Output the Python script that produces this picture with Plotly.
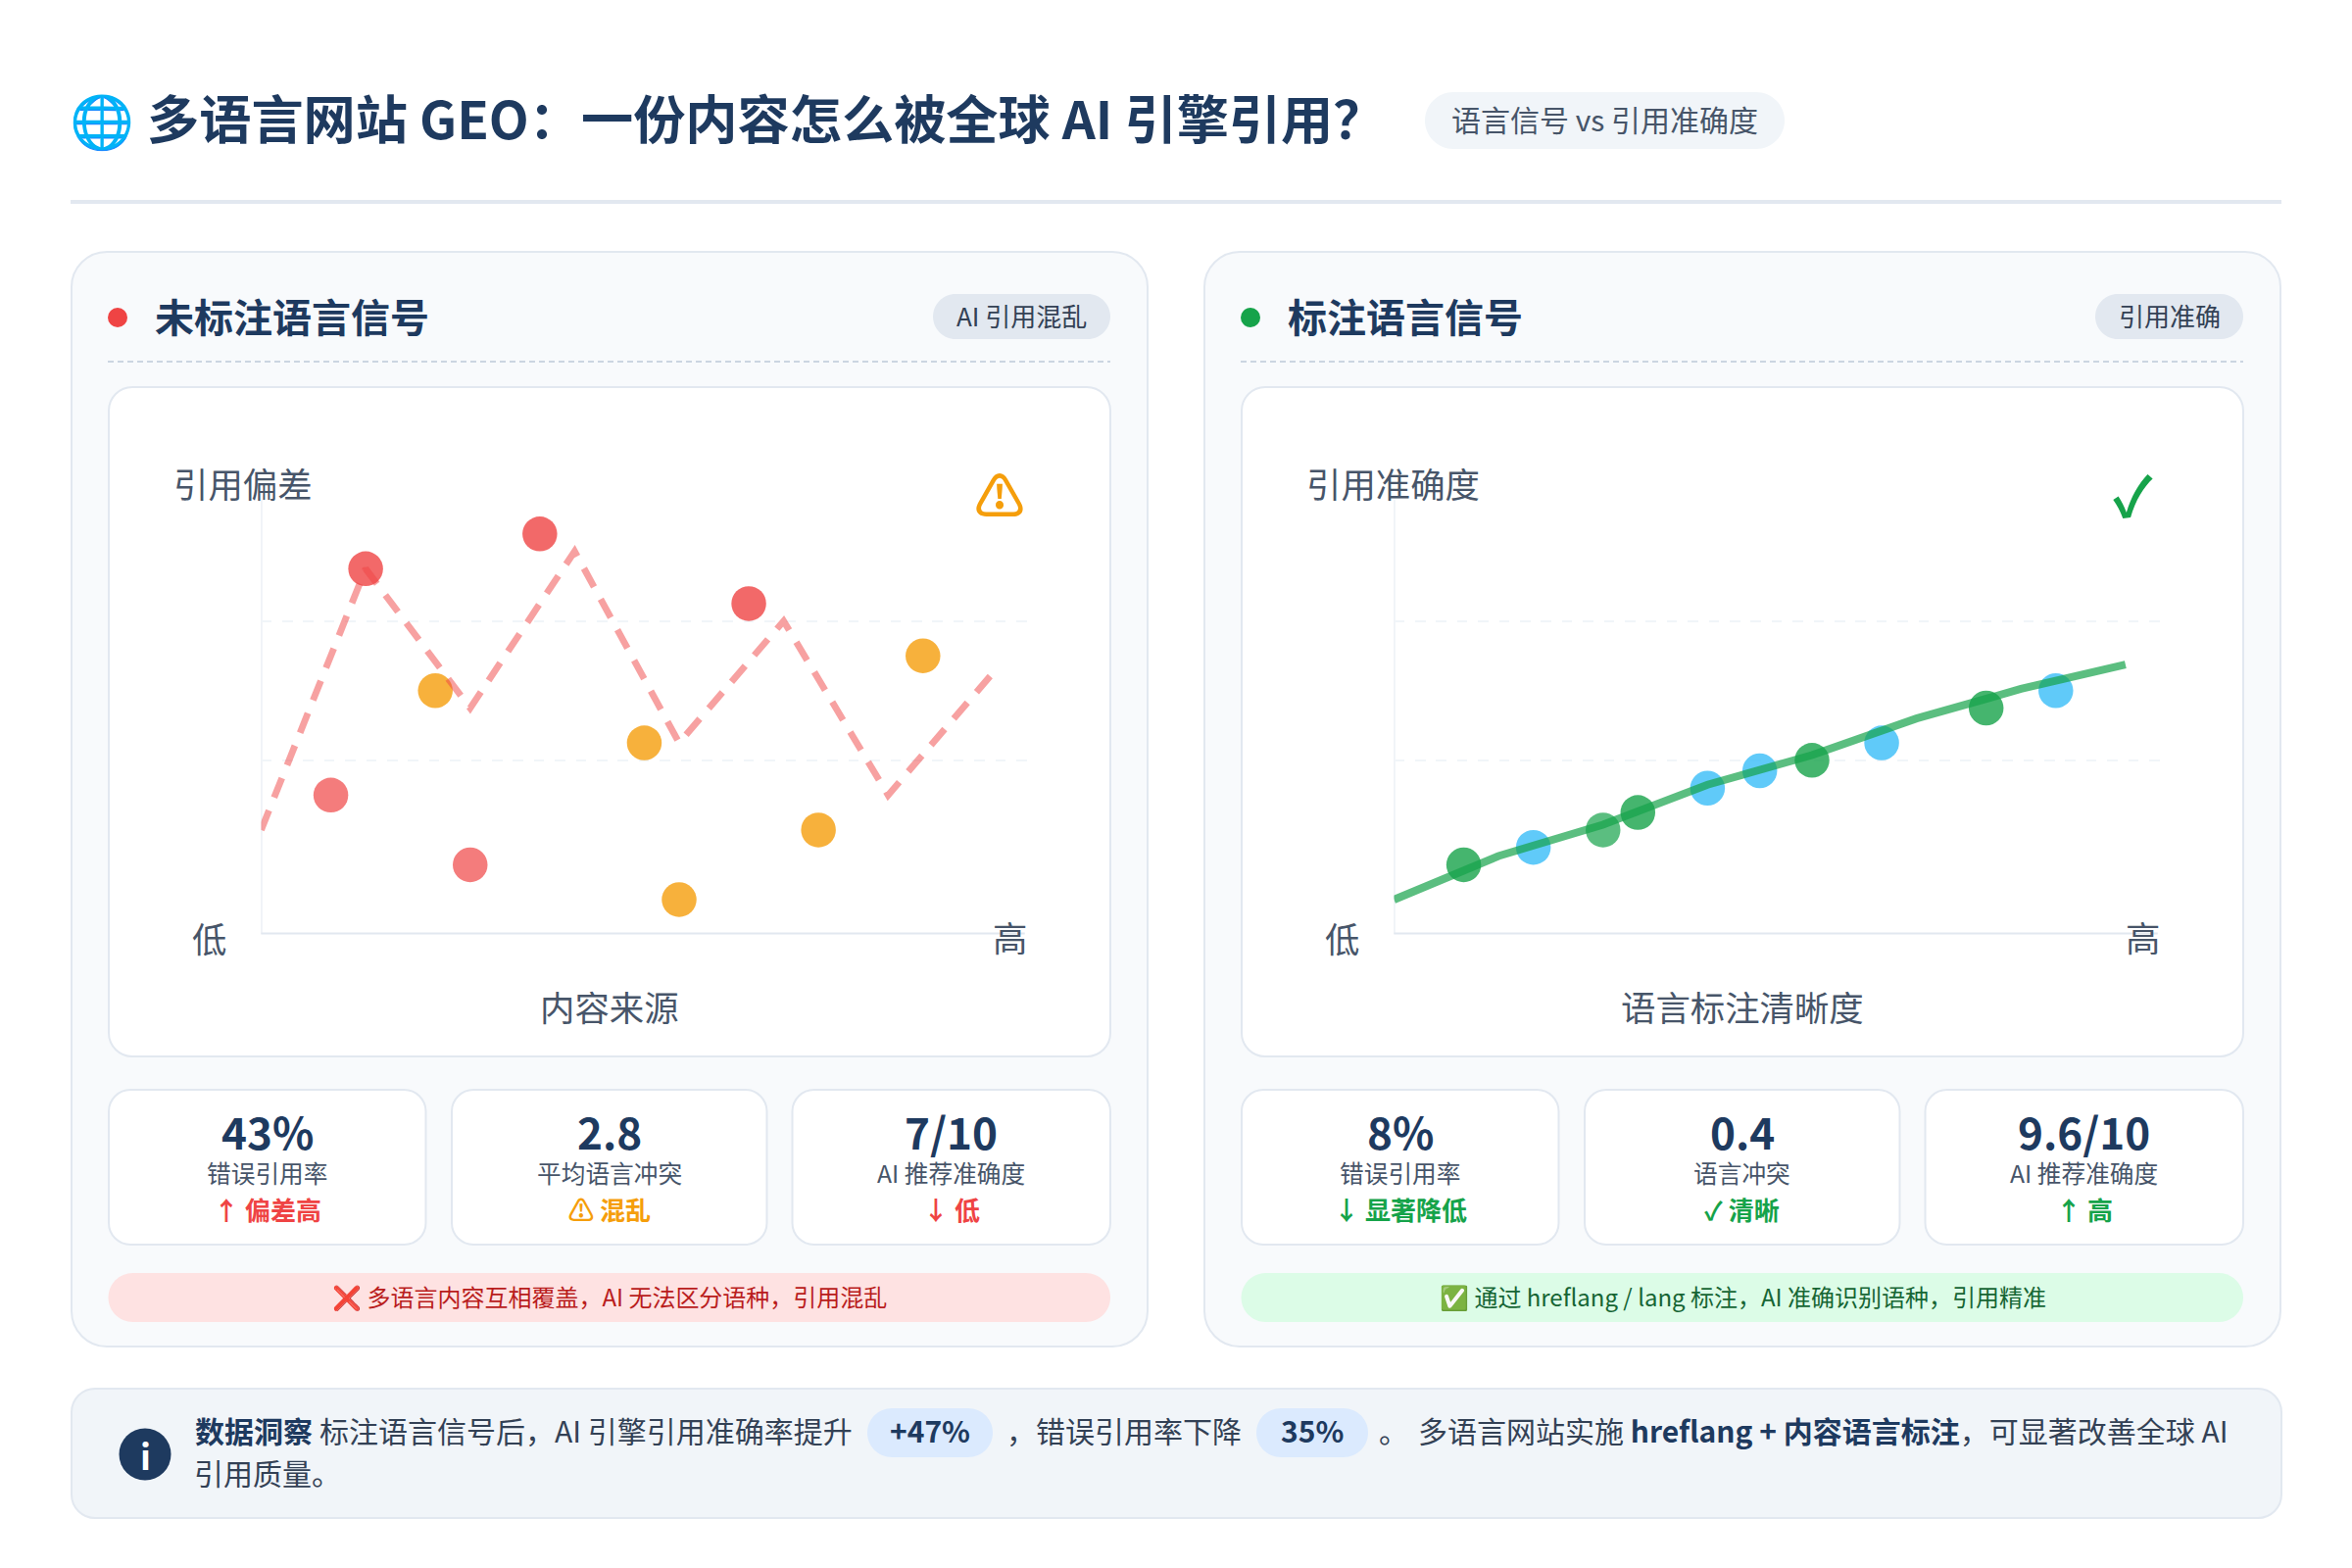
import plotly.graph_objects as go

# ---- data ----
bias_line_x = [0, 60, 120, 180, 240, 300, 360, 420]
bias_line_y = [60, 210, 130, 220, 110, 180, 80, 150]
bias_red_x = [60, 160, 280, 40, 120]
bias_red_y = [210, 230, 190, 80, 40]
bias_orange_x = [100, 220, 240, 320, 380]
bias_orange_y = [140, 110, 20, 60, 160]
acc_line_x = [0, 60, 120, 180, 240, 300, 360, 420]
acc_line_y = [20, 45, 63, 86, 103, 124, 141, 155]
acc_green_x = [40, 120, 140, 240, 340]
acc_green_y = [40, 60, 70, 100, 130]
acc_blue_x = [80, 180, 210, 280, 380]
acc_blue_y = [50, 84, 94, 110, 140]
grid_values = [100, 180]

left_values = ["43%", "2.8", "7/10"]
left_labels = ["错误引用率", "平均语言冲突", "AI 推荐准确度"]
left_trends = ["↑ 偏差高", "⚠ 混乱", "↓ 低"]
right_values = ["8%", "0.4", "9.6/10"]
right_labels = ["错误引用率", "语言冲突", "AI 推荐准确度"]
right_trends = ["↓ 显著降低", "✓ 清晰", "↑ 高"]

# ---- style ----
W, H = 2400, 1600
FONT = "Noto Sans CJK SC"
NAVY, SLATE, DARK = "#1e3a5f", "#475569", "#334155"
RED, ORANGE, GREEN, BLUE = "#ef4444", "#f59e0b", "#16a34a", "#38bdf8"
BORDER = "#e2e8f0"
DOT = 35.5
OFFSET = 1156
TEXT_DY = -3
X_MAX, Y_MAX = 440, 250


def px(x):
    return x / W


def py(y):
    return 1 - y / H


shapes, annos = [], []


def rrect(x0, y0, x1, y1, r, fill, line=None, lw=0):
    k = r * 0.45
    pts = [
        ("M", x0 + r, y0), ("L", x1 - r, y0),
        ("C", x1 - k, y0, x1, y0 + k, x1, y0 + r), ("L", x1, y1 - r),
        ("C", x1, y1 - k, x1 - k, y1, x1 - r, y1), ("L", x0 + r, y1),
        ("C", x0 + k, y1, x0, y1 - k, x0, y1 - r), ("L", x0, y0 + r),
        ("C", x0, y0 + k, x0 + k, y0, x0 + r, y0),
    ]
    d = ""
    for p in pts:
        nums = p[1:]
        coords = [f"{px(nums[i]):.6f},{py(nums[i + 1]):.6f}" for i in range(0, len(nums), 2)]
        d += p[0] + " ".join(coords) + " "
    shapes.append(dict(type="path", xref="paper", yref="paper", path=d + "Z", fillcolor=fill,
                       line=dict(color=line or fill, width=lw), layer="below"))


def hline(x0, x1, y, color, w, dash="solid"):
    shapes.append(dict(type="line", xref="paper", yref="paper", x0=px(x0), x1=px(x1), y0=py(y), y1=py(y),
                       line=dict(color=color, width=w, dash=dash), layer="below"))


def circle(cx, cy, r, fill):
    shapes.append(dict(type="circle", xref="paper", yref="paper", x0=px(cx - r), x1=px(cx + r),
                       y0=py(cy + r), y1=py(cy - r), fillcolor=fill, line=dict(width=0), layer="below"))


def text(x, y, s, size, color, anchor="left", bold=False, family=FONT):
    annos.append(dict(xref="paper", yref="paper", x=px(x), y=py(y + TEXT_DY), text=f"<b>{s}</b>" if bold else s,
                      showarrow=False, xanchor=anchor, yanchor="middle", borderpad=0, borderwidth=0,
                      font=dict(family=family, size=size, color=color)))


# ---- header ----
text(104, 122.5, "🌐", 53, NAVY, "center")
text(150, 122, "多语言网站 GEO：一份内容怎么被全球 AI 引擎引用？", 53.2, NAVY, bold=True)
rrect(1454, 94, 1821, 152, 29, "#f1f5f9")
text(1637.5, 124, "语言信号 vs 引用准确度", 30, SLATE, "center")
hline(72, 2328, 206, BORDER, 4)


# ---- panels ----
def panel(dx, dot, head, pill_x0, pill, title, xlabel, icon, icon_size, icon_color, vals, labels, trends,
          trend_colors, banner, banner_fill, banner_color):
    rrect(73 + dx, 257, 1171 + dx, 1374, 36, "#f8fafc", BORDER, 2)
    circle(120 + dx, 324, 10, dot)
    text(158 + dx, 325, head, 40, NAVY, bold=True)
    rrect(pill_x0, 300, 1133 + dx, 346, 23, BORDER)
    text((pill_x0 + 1133 + dx) / 2, 324, pill, 26, DARK, "center")
    hline(110 + dx, 1133 + dx, 369, "#cbd5e1", 2, "6px,4px")
    rrect(111 + dx, 395, 1133 + dx, 1078, 24, "#ffffff", BORDER, 2)
    text(177 + dx, 495, title, 35.4, SLATE)
    text(213 + dx, 959, "低", 35.4, SLATE, "center")
    text(1030.5 + dx, 958.5, "高", 35.4, SLATE, "center")
    text(622 + dx, 1029, xlabel, 35.4, SLATE, "center")
    text(1020 + dx, 506, icon, icon_size, icon_color, "center", bold=True)
    cards = [(111, 434.5), (461, 782.5), (808.5, 1133)]
    for (a, b), v, l, t, c in zip(cards, vals, labels, trends, trend_colors):
        rrect(a + dx, 1112, b + dx, 1270, 22, "#ffffff", BORDER, 2)
        m = (a + b) / 2 + dx
        text(m, 1156.5, v, 44, NAVY, "center", bold=True)
        text(m, 1199, l, 24.7, SLATE, "center")
        text(m, 1236, t, 26, c, "center", bold=True)
    rrect(110.5 + dx, 1299, 1133 + dx, 1349, 25, banner_fill)
    text(622 + dx, 1325, banner, 24, banner_color, "center")


panel(0, RED, "未标注语言信号", 952, "AI 引用混乱", "引用偏差", "内容来源", "⚠", 50, ORANGE,
      left_values, left_labels, left_trends, [RED, ORANGE, RED],
      "❌ 多语言内容互相覆盖，AI 无法区分语种，引用混乱", "#fee2e2", "#b91c1c")
panel(OFFSET, GREEN, "标注语言信号", 2138, "引用准确", "引用准确度", "语言标注清晰度", "✓", 56, GREEN,
      right_values, right_labels, right_trends, [GREEN, GREEN, GREEN],
      "✅ 通过 hreflang / lang 标注，AI 准确识别语种，引用精准", "#dcfce7", "#166534")

# ---- insight ----
rrect(73, 1417, 2328, 1549, 24, "#f1f5f9", BORDER, 2)
circle(148, 1484, 26.5, NAVY)
text(148, 1487, "i", 36, "#ffffff", "center", bold=True)
text(199, 1462, "数据洞察", 30, NAVY, bold=True)
text(326, 1462, "标注语言信号后，AI 引擎引用准确率提升", 30, DARK)
rrect(885, 1437, 1013, 1487, 25, "#dbeafe")
text(949, 1462, "+47%", 30, NAVY, "center", bold=True)
text(1027, 1462, "，错误引用率下降", 30, DARK)
rrect(1282, 1437, 1396, 1487, 25, "#dbeafe")
text(1339, 1462, "35%", 30, NAVY, "center", bold=True)
text(1407, 1462, "。", 30, DARK)
text(1447, 1462, f"多语言网站实施 <b><span style='color:{NAVY}'>hreflang + 内容语言标注</span></b>，可显著改善全球 AI", 30, DARK)
text(198, 1505, "引用质量。", 30, DARK)

# ---- figure ----
fig = go.Figure()


def marks(axis, xs, ys, color, opacity):
    fig.add_trace(go.Scatter(x=xs, y=ys, mode="markers", xaxis=f"x{axis}", yaxis=f"y{axis}", cliponaxis=False,
                             marker=dict(size=DOT, color=color, opacity=opacity, line=dict(width=0)),
                             hoverinfo="skip"))


marks("", bias_red_x, bias_red_y, RED, [0.8, 0.8, 0.8, 0.7, 0.7])
marks("", bias_orange_x, bias_orange_y, ORANGE, 0.8)
fig.add_trace(go.Scatter(x=bias_line_x, y=bias_line_y, mode="lines", cliponaxis=False,
                         line=dict(color="rgba(239,68,68,0.5)", width=6.8, dash="21.4px,14.22px"), hoverinfo="skip"))
marks("2", acc_green_x, acc_green_y, GREEN, [0.8, 0.7, 0.8, 0.8, 0.8])
marks("2", acc_blue_x, acc_blue_y, BLUE, 0.8)
fig.add_trace(go.Scatter(x=acc_line_x, y=acc_line_y, mode="lines", xaxis="x2", yaxis="y2", cliponaxis=False,
                         line=dict(color="rgba(22,163,74,0.7)", width=8), hoverinfo="skip"))

for xr, yr in (("x", "y"), ("x2", "y2")):
    shapes.append(dict(type="line", xref=xr, yref=yr, x0=-0.6, x1=-0.6, y0=0, y1=Y_MAX,
                       line=dict(color=BORDER, width=4), layer="below"))
    shapes.append(dict(type="line", xref=xr, yref=yr, x0=-0.6, x1=X_MAX - 1.5, y0=0, y1=0,
                       line=dict(color=BORDER, width=4), layer="below"))


def xax(dx):
    return dict(domain=[px(266.5 + dx), px(1048.4 + dx)], range=[0, X_MAX], showgrid=False, zeroline=False,
                showticklabels=False, ticks="", showline=False, fixedrange=True)


def yax(x):
    return dict(domain=[py(953.5), py(509.3)], range=[0, Y_MAX], anchor=x, tickvals=grid_values, showgrid=True,
                gridcolor="#f1f5f9", gridwidth=2.4, griddash="10.7px,10.7px", zeroline=False, showticklabels=False,
                ticks="", showline=False, fixedrange=True)


fig.update_layout(width=W, height=H, margin=dict(l=0, r=0, t=0, b=0), autosize=False, showlegend=False,
                  paper_bgcolor="#ffffff", plot_bgcolor="rgba(0,0,0,0)", shapes=shapes, annotations=annos,
                  font=dict(family=FONT),
                  xaxis=dict(xax(0), anchor="y"), yaxis=yax("x"),
                  xaxis2=dict(xax(OFFSET), anchor="y2"), yaxis2=yax("x2"))

fig.write_html("out.html", config=dict(displayModeBar=False),
               post_script="document.body.style.margin='0';document.body.style.overflow='hidden';")
